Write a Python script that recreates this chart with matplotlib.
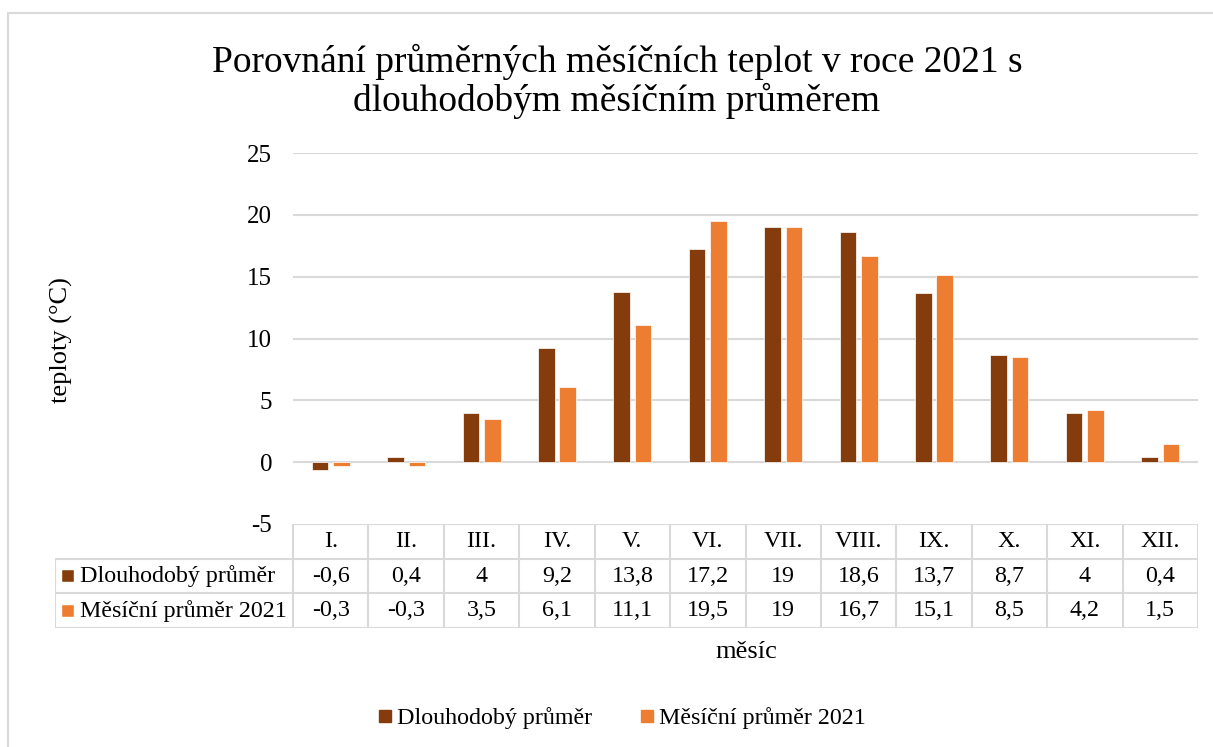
import matplotlib.pyplot as plt
from matplotlib.patches import Rectangle
from matplotlib.lines import Line2D

plt.rcParams['font.family'] = ['Liberation Serif', 'DejaVu Serif']

# data
months = ['I.', 'II.', 'III.', 'IV.', 'V.', 'VI.', 'VII.', 'VIII.', 'IX.', 'X.', 'XI.', 'XII.']
long_term = [-0.6, 0.4, 4, 9.2, 13.8, 17.2, 19, 18.6, 13.7, 8.7, 4, 0.4]
year_2021 = [-0.3, -0.3, 3.5, 6.1, 11.1, 19.5, 19, 16.7, 15.1, 8.5, 4.2, 1.5]
series_names = ['Dlouhodobý průměr', 'Měsíční průměr 2021']
colors = ['#843C0C', '#ED7D31']
yticks = [-5, 0, 5, 10, 15, 20, 25]

W, H = 1213, 747
fig = plt.figure(figsize=(W / 100, H / 100), dpi=100)

# outer chart frame (light grey, cut off on right/bottom)
fig.patches.append(Rectangle((8 / W, -0.2), 1.2, 1.2 - 13 / H, transform=fig.transFigure,
                             fill=False, edgecolor='#D9D9D9', linewidth=1.5))

# main plot area
ax = fig.add_axes([293 / W, (H - 524) / H, (1198 - 293) / W, (524 - 153) / H])
x = [i + 0.5 for i in range(len(months))]
bw = 0.22
ax.bar([xi - 0.142 for xi in x], long_term, bw, color=colors[0], edgecolor='white', linewidth=0.5, zorder=3)
ax.bar([xi + 0.142 for xi in x], year_2021, bw, color=colors[1], edgecolor='white', linewidth=0.5, zorder=3)
ax.set_xlim(0, 12)
ax.set_ylim(-5, 25)
ax.set_yticks(yticks)
ax.set_yticklabels([str(t) for t in yticks], fontsize=18)
ax.tick_params(axis='y', length=0, pad=15)
ax.set_xticks([])
for s in ax.spines.values():
    s.set_visible(False)
for t in yticks[1:]:
    ax.axhline(t, color='#D9D9D9', linewidth=1.5, zorder=1)

fig.text(61 / W, 1 - 340 / H, 'teploty (°C)', rotation=90, ha='center', va='center', fontsize=19)

fig.text(617 / W, 1 - 81 / H, 'Porovnání průměrných měsíčních teplot v roce 2021 s\ndlouhodobým měsíčním průměrem',
         ha='center', va='center', fontsize=27, linespacing=1.1)

# data table below the axis
tab_left = 55
tab = fig.add_axes([tab_left / W, (H - 628) / H, (1198 - tab_left) / W, (628 - 524) / H])
lab_w = (293 - tab_left) / ((1198 - 293) / 12)
tab.set_xlim(-lab_w, 12)
tab.set_ylim(0, 3)
tab.axis('off')
gc = '#D9D9D9'
lw = 1.5
tab.plot([0, 12], [3, 3], color=gc, lw=lw)
for yy in [0, 1, 2]:
    tab.plot([-lab_w, 12], [yy, yy], color=gc, lw=lw)
tab.plot([-lab_w, -lab_w], [0, 2], color=gc, lw=lw)
for i in range(13):
    tab.plot([i, i], [0, 3], color=gc, lw=lw)
for i, m in enumerate(months):
    tab.text(i + 0.5, 2.5, m, ha='center', va='center', fontsize=17.3)
    tab.text(i + 0.5, 1.5, f'{long_term[i]:g}'.replace('.', ','), ha='center', va='center', fontsize=17.3)
    tab.text(i + 0.5, 0.5, f'{year_2021[i]:g}'.replace('.', ','), ha='center', va='center', fontsize=17.3)
for r, (name, c) in enumerate(zip(series_names, colors)):
    yy = 1.5 - r
    tab.plot([-lab_w + 0.175], [yy], marker='s', markersize=8, color=c, markeredgecolor='white', markeredgewidth=0.3)
    tab.text(-lab_w + 0.33, yy, name, ha='left', va='center', fontsize=17.3)

fig.text(746 / W, 1 - 652 / H, 'měsíc', ha='center', va='center', fontsize=19)

handles = [Line2D([], [], linestyle='none', marker='s', markersize=9, color=c) for c in colors]
fig.legend(handles, series_names, loc='center', bbox_to_anchor=(622 / W, 1 - 718 / H), ncol=2,
           frameon=False, fontsize=17.3, handlelength=0.6, handletextpad=0.2, columnspacing=2.0)

fig.savefig('out.png', dpi=100)
